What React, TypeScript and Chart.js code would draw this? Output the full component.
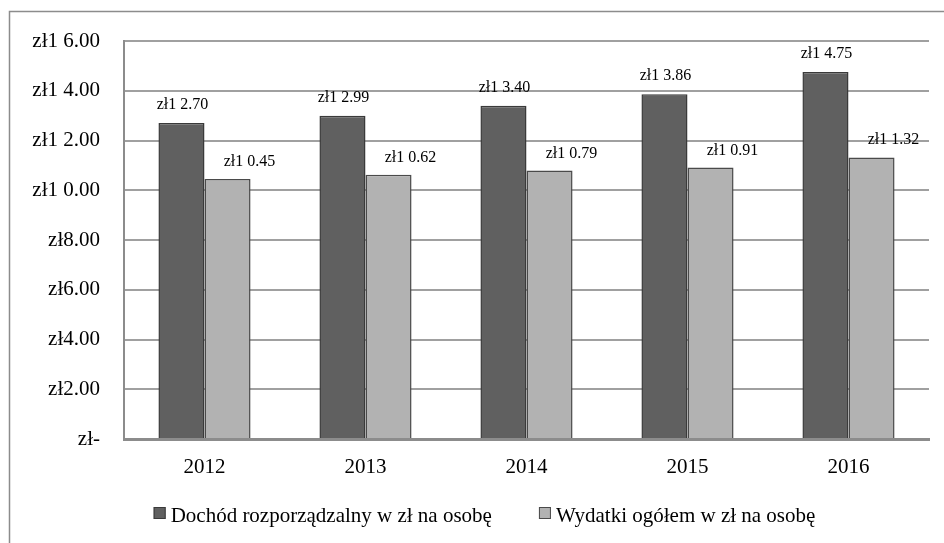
import { useEffect, useRef } from "react";
import { Chart, registerables } from "chart.js";

Chart.register(...registerables);

const years = ["2012", "2013", "2014", "2015", "2016"];
const seriesNames = [
  "Dochód rozporządzalny w zł na osobę",
  "Wydatki ogółem w zł na osobę",
];
const dochod = [12.7, 12.99, 13.4, 13.86, 14.75];
const wydatki = [10.45, 10.62, 10.79, 10.91, 11.32];
const yTickLabels = [
  "zł-",
  "zł2.00",
  "zł4.00",
  "zł6.00",
  "zł8.00",
  "zł1 0.00",
  "zł1 2.00",
  "zł1 4.00",
  "zł1 6.00",
];
const yMin = 0;
const yMax = 16;
const yStep = 2;

const FONT = '"Liberation Serif", "Times New Roman", serif';

const fmt = (v: number) => {
  const s = v.toFixed(2);
  return v >= 10 ? `zł${s[0]} ${s.slice(1)}` : `zł${s}`;
};

const labelOffsets = [
  { dx: 1, dy: 14 },
  { dx: 22, dy: 13 },
];

const framePlugin = {
  id: "frame",
  beforeDraw(chart: any) {
    const ctx = chart.ctx;
    ctx.save();
    ctx.fillStyle = "#ffffff";
    ctx.fillRect(0, 0, chart.width, chart.height);
    ctx.strokeStyle = "#8c8c8c";
    ctx.lineWidth = 1.5;
    ctx.beginPath();
    ctx.moveTo(9.5, chart.height);
    ctx.lineTo(9.5, 11.5);
    ctx.lineTo(chart.width, 11.5);
    ctx.stroke();
    ctx.restore();
  },
};

const dataLabelPlugin = {
  id: "dataLabels",
  afterDatasetsDraw(chart: any) {
    const ctx = chart.ctx;
    ctx.save();
    ctx.font = `16px ${FONT}`;
    ctx.fillStyle = "#000";
    ctx.textAlign = "center";
    ctx.textBaseline = "alphabetic";
    chart.data.datasets.forEach((ds: any, di: number) => {
      const meta = chart.getDatasetMeta(di);
      const off = labelOffsets[di];
      meta.data.forEach((el: any, i: number) => {
        ctx.fillText(fmt(ds.data[i]), el.x + off.dx, el.y - off.dy);
      });
    });
    ctx.restore();
  },
};

const legendPlugin = {
  id: "customLegend",
  afterDraw(chart: any) {
    const ctx = chart.ctx;
    ctx.save();
    ctx.font = `21px ${FONT}`;
    const box = 12;
    const gap = 5;
    const itemGap = 47;
    const items = chart.data.datasets.map((ds: any) => ({
      label: ds.label,
      fill: ds.backgroundColor,
      stroke: ds.borderColor,
      w: ctx.measureText(ds.label).width,
    }));
    const total =
      items.reduce((a: number, it: any) => a + box + gap + it.w, 0) +
      itemGap * (items.length - 1);
    const cx = (chart.chartArea.left + chart.chartArea.right) / 2 - 42;
    let x = cx - total / 2;
    const baseY = chart.height - 21.5;
    ctx.textAlign = "left";
    ctx.textBaseline = "alphabetic";
    items.forEach((it: any) => {
      ctx.fillStyle = it.fill;
      ctx.fillRect(x, baseY - 14.5, box, box);
      ctx.strokeStyle = it.stroke;
      ctx.lineWidth = 1;
      ctx.strokeRect(x + 0.5, baseY - 14, box - 1, box - 1);
      ctx.fillStyle = "#000";
      ctx.fillText(it.label, x + box + gap, baseY);
      x += box + gap + it.w + itemGap;
    });
    ctx.restore();
  },
};

export default function App() {
  const ref = useRef<HTMLCanvasElement | null>(null);

  useEffect(() => {
    if (!ref.current) return;
    const chart = new Chart(ref.current, {
      type: "bar",
      data: {
        labels: years,
        datasets: [
          {
            label: seriesNames[0],
            data: dochod,
            backgroundColor: "#606060",
            borderColor: "#3a3a3a",
            borderWidth: 1.5,
            categoryPercentage: 0.572,
            barPercentage: 1,
          },
          {
            label: seriesNames[1],
            data: wydatki,
            backgroundColor: "#b2b2b2",
            borderColor: "#4a4a4a",
            borderWidth: 1.5,
            categoryPercentage: 0.572,
            barPercentage: 1,
          },
        ],
      },
      options: {
        responsive: false,
        animation: false,
        maintainAspectRatio: false,
        layout: { padding: { left: 0, top: 41, right: 15, bottom: 0 } },
        plugins: {
          legend: { display: false },
          tooltip: { enabled: false },
          title: { display: false },
        },
        scales: {
          x: {
            grid: { display: false, drawTicks: false },
            border: { display: true, color: "#8c8c8c", width: 3 },
            ticks: {
              color: "#000",
              padding: 16,
              font: { family: FONT, size: 21 },
            },
            afterFit: (s: any) => {
              s.height = 104;
            },
          },
          y: {
            min: yMin,
            max: yMax,
            grid: { color: "#a0a0a0", lineWidth: 2, drawTicks: false },
            border: { display: true, color: "#8c8c8c", width: 2 },
            ticks: {
              stepSize: yStep,
              color: "#000",
              padding: 24,
              font: { family: FONT, size: 21 },
              callback: (_v: any, i: number) => yTickLabels[i],
            },
            afterFit: (s: any) => {
              s.width = 124;
            },
          },
        },
      },
      plugins: [framePlugin, dataLabelPlugin, legendPlugin],
    });
    return () => chart.destroy();
  }, []);

  return (
    <div
      style={{
        position: "fixed",
        left: 0,
        top: 0,
        width: 944,
        height: 543,
        overflow: "hidden",
        background: "#fff",
      }}
    >
      <canvas ref={ref} width={944} height={543} style={{ display: "block" }} />
    </div>
  );
}
